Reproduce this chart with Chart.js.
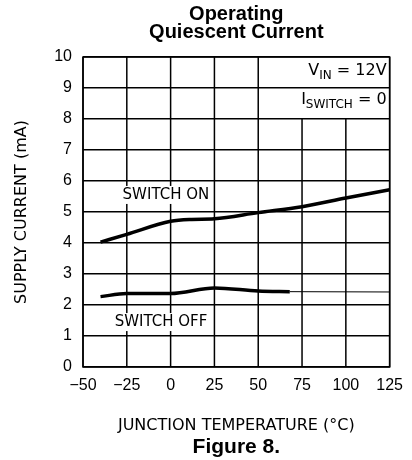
<!DOCTYPE html>
<html>
<head>
<meta charset="utf-8">
<script src="https://cdn.jsdelivr.net/npm/chart.js@4/dist/chart.umd.min.js"></script>
<style>
  html, body { margin: 0; padding: 0; background: #fff; }
  #wrap { width: 412px; height: 460px; }
</style>
</head>
<body>
<div id="wrap"><canvas id="c" width="412" height="460"></canvas></div>
<script>
// ---- data ----
const xTickValues = [-50, -25, 0, 25, 50, 75, 100, 125];
const xTickLabels = ['\u221250', '\u221225', '0', '25', '50', '75', '100', '125'];
const yTickLabels = ['0', '1', '2', '3', '4', '5', '6', '7', '8', '9', '10'];

const switchOnTemp  = [-40, -25, 0, 12, 25, 50, 75, 100, 125];
const switchOnMA    = [4.03, 4.28, 4.70, 4.76, 4.78, 4.98, 5.17, 5.45, 5.72];

const switchOffTemp = [-40, -25, 0, 25, 50, 68];
const switchOffMA   = [2.27, 2.37, 2.37, 2.55, 2.45, 2.43];

const switchOffTailTemp = [68, 125];
const switchOffTailMA   = [2.43, 2.42];

const titleLines = ['Operating', 'Quiescent Current'];
const figureCaption = 'Figure 8.';
const xAxisTitle = 'JUNCTION TEMPERATURE (\u00B0C)';
const yAxisTitle = 'SUPPLY CURRENT (mA)';
const seriesLabels = ['SWITCH ON', 'SWITCH OFF'];

const toPts = (xs, ys) => xs.map((v, i) => ({ x: v, y: ys[i] }));

const LABEL_FONT = '15px "DejaVu Sans"';

function drawSubText(ctx, parts, xRight, yMid) {
  // parts: [text, isSub]
  const big = '16px "DejaVu Sans"', small = '12px "DejaVu Sans"';
  let total = 0;
  parts.forEach(([t, s]) => { ctx.font = s ? small : big; total += ctx.measureText(t).width; });
  let x = xRight - total;
  ctx.textAlign = 'left';
  ctx.textBaseline = 'middle';
  parts.forEach(([t, s]) => {
    ctx.font = s ? small : big;
    ctx.fillText(t, x, s ? yMid + 5 : yMid);
    x += ctx.measureText(t).width;
  });
}

const customGrid = {
  id: 'customGrid',
  beforeDatasetsDraw(chart) {
    const { ctx, chartArea: a, scales: { x, y } } = chart;
    ctx.save();
    ctx.strokeStyle = '#000';
    ctx.lineWidth = 1.5;
    // vertical grid lines (the top-right cells are merged for the notes)
    xTickValues.forEach(v => {
      const px = x.getPixelForValue(v);
      const top = (v === 75 || v === 100) ? y.getPixelForValue(8) : a.top;
      ctx.beginPath();
      ctx.moveTo(px, top);
      ctx.lineTo(px, a.bottom);
      ctx.stroke();
    });
    // curve labels on white boxes
    ctx.font = LABEL_FONT;
    ctx.textBaseline = 'middle';
    ctx.textAlign = 'left';
    const lbls = [
      { t: seriesLabels[0], xv: -27.4, yv: 5.55 },
      { t: seriesLabels[1], xv: -31.9, yv: 1.45 }
    ];
    lbls.forEach(l => {
      const px = x.getPixelForValue(l.xv);
      const py = y.getPixelForValue(l.yv);
      const w = ctx.measureText(l.t).width;
      ctx.fillStyle = '#fff';
      ctx.fillRect(px - 3, py - 9, w + 6, 18);
      ctx.fillStyle = '#000';
      ctx.fillText(l.t, px, py);
    });
    // condition notes
    ctx.fillStyle = '#000';
    const xr = a.right - 3;
    drawSubText(ctx, [['V', 0], ['IN', 1], [' = 12V', 0]], xr, y.getPixelForValue(9.55));
    drawSubText(ctx, [['I', 0], ['SWITCH', 1], [' = 0', 0]], xr, y.getPixelForValue(8.62));
    ctx.restore();
  },
  afterDatasetsDraw(chart) {
    const { ctx, chartArea: a } = chart;
    ctx.save();
    ctx.strokeStyle = '#000';
    ctx.lineWidth = 1.5;
    ctx.strokeRect(a.left, a.top, a.right - a.left, a.bottom - a.top);
    ctx.restore();
  }
};

new Chart(document.getElementById('c'), {
  type: 'line',
  data: {
    datasets: [
      {
        label: seriesLabels[0],
        data: toPts(switchOnTemp, switchOnMA),
        borderColor: '#000', borderWidth: 3.5, pointRadius: 0,
        cubicInterpolationMode: 'monotone', fill: false
      },
      {
        label: seriesLabels[1],
        data: toPts(switchOffTemp, switchOffMA),
        borderColor: '#000', borderWidth: 3.5, pointRadius: 0,
        cubicInterpolationMode: 'monotone', fill: false
      },
      {
        label: seriesLabels[1] + ' (ext)',
        data: toPts(switchOffTailTemp, switchOffTailMA),
        borderColor: '#000', borderWidth: 1, pointRadius: 0, fill: false
      }
    ]
  },
  options: {
    responsive: false,
    animation: false,
    events: [],
    layout: { padding: { left: 0, right: 19, top: 0, bottom: 0 } },
    plugins: {
      legend: { display: false },
      tooltip: { enabled: false },
      title: {
        display: true,
        text: titleLines,
        fullSize: false,
        color: '#000',
        font: { family: '"Liberation Sans", Arial, sans-serif', size: 20, weight: 'bold', lineHeight: 0.9 },
        padding: { top: 5, bottom: 16 }
      },
      subtitle: {
        display: true,
        position: 'bottom',
        text: figureCaption,
        fullSize: false,
        color: '#000',
        font: { family: '"Liberation Sans", Arial, sans-serif', size: 21, weight: 'bold', lineHeight: 1 },
        padding: { top: 0, bottom: 2 }
      }
    },
    scales: {
      x: {
        type: 'linear',
        min: -50, max: 125,
        afterBuildTicks: s => { s.ticks = xTickValues.map(v => ({ value: v })); },
        ticks: {
          color: '#000',
          font: { family: '"Liberation Sans", Arial, sans-serif', size: 16 },
          padding: 9,
          maxRotation: 0,
          autoSkip: false,
          callback: (v) => xTickLabels[xTickValues.indexOf(v)]
        },
        grid: { display: false, drawTicks: false },
        border: { display: false },
        title: {
          display: true,
          text: xAxisTitle,
          color: '#000',
          font: { family: '"DejaVu Sans"', size: 16, lineHeight: 1.2 },
          padding: { top: 0, bottom: 1.5 }
        },
        afterFit: s => { s.height = 70; }
      },
      y: {
        type: 'linear',
        min: 0, max: 10,
        ticks: {
          stepSize: 1,
          color: '#000',
          font: { family: '"Liberation Sans", Arial, sans-serif', size: 16 },
          padding: 11,
          callback: (v) => yTickLabels[v]
        },
        grid: { display: true, color: '#000', lineWidth: 1.5, drawTicks: false },
        border: { display: false },
        title: {
          display: true,
          text: yAxisTitle,
          color: '#000',
          font: { family: '"DejaVu Sans"', size: 16, lineHeight: 1.2 },
          padding: { top: 12, bottom: 0 }
        },
        afterFit: s => { s.width = 83; }
      }
    }
  },
  plugins: [customGrid]
});
</script>
</body>
</html>
